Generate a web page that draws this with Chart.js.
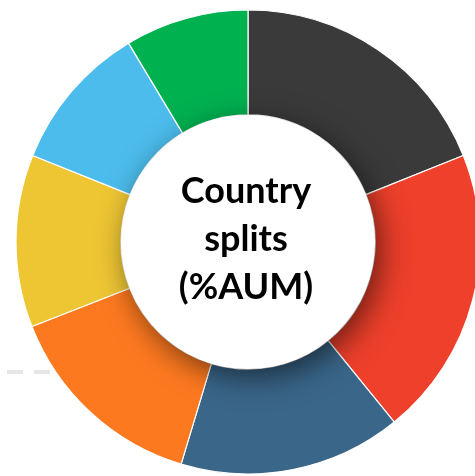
<!DOCTYPE html>
<html>
<head>
<meta charset="utf-8">
<script src="https://cdn.jsdelivr.net/npm/chart.js@4/dist/chart.umd.min.js"></script>
<style>
    html, body { margin: 0; padding: 0; background: #fff; overflow: hidden; }
    #wrap { position: relative; width: 475px; height: 476px; }
</style>
</head>
<body>
<div id="wrap"><canvas id="splitChart" width="475" height="476"></canvas></div>
<script>
// Country splits, clockwise from 12 o'clock (labels not shown in the picture)
const labels = ['Country 1', 'Country 2', 'Country 3', 'Country 4', 'Country 5', 'Country 6', 'Country 7'];
const splits = [18.9, 20.2, 15.5, 14.4, 12.0, 10.3, 8.6];
const colours = ['#3a3a3a', '#ee402b', '#3a6689', '#fd7920', '#eec634', '#4cbcec', '#00b150'];
const centreLines = ['Country', 'splits', '(%AUM)'];

// Shadow under the centre disc + title text + dashed stub on the left
const centrePlugin = {
    id: 'centre',
    beforeDatasetsDraw(chart) {
        const ctx = chart.ctx;
        ctx.save();
        ctx.strokeStyle = '#e6e6e6';
        ctx.lineWidth = 4;
        ctx.setLineDash([16, 11]);
        ctx.beginPath();
        ctx.moveTo(7, 372);
        ctx.lineTo(60, 372);
        ctx.stroke();
        ctx.restore();
    },
    afterDatasetsDraw(chart) {
        const arc = chart.getDatasetMeta(0).data[0];
        const { x, y, innerRadius } = arc.getProps(['x', 'y', 'innerRadius'], true);
        const ctx = chart.ctx;
        ctx.save();
        ctx.fillStyle = '#fff';
        ctx.shadowColor = 'rgba(0, 0, 0, 0.55)';
        ctx.shadowBlur = 30;
        ctx.shadowOffsetX = 6;
        ctx.shadowOffsetY = 8;
        ctx.beginPath();
        ctx.arc(x, y, innerRadius, 0, Math.PI * 2);
        ctx.fill();
        ctx.restore();

        ctx.save();
        ctx.fillStyle = '#000';
        ctx.font = 'bold 36px Lato';
        ctx.textAlign = 'center';
        ctx.textBaseline = 'alphabetic';
        centreLines.forEach((line, i) => {
            ctx.fillText(line, x - 2, y - 39 + i * 48);
        });
        ctx.restore();
    }
};

new Chart(document.getElementById('splitChart'), {
    type: 'doughnut',
    data: {
        labels: labels,
        datasets: [{
            data: splits,
            backgroundColor: colours,
            borderColor: '#ffffff',
            borderWidth: 1.2,
            hoverOffset: 0
        }]
    },
    options: {
        responsive: false,
        animation: false,
        radius: 232,
        cutout: 124,
        layout: { padding: { left: 21, top: 8, right: 0, bottom: 0 } },
        plugins: {
            legend: { display: false },
            tooltip: { enabled: false }
        }
    },
    plugins: [centrePlugin]
});
</script>
</body>
</html>
